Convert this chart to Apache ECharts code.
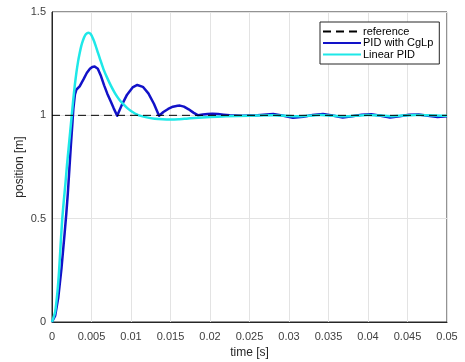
<!DOCTYPE html>
<html>
<head>
<meta charset="utf-8">
<script src="https://cdn.jsdelivr.net/npm/echarts@6/dist/echarts.min.js"></script>
<style>html,body{margin:0;padding:0;background:#fff}#c{width:465px;height:362px}</style>
</head>
<body>
<div id="c"></div>
<script>
const seriesNames = ['reference', 'PID with CgLp', 'Linear PID'];
const xTicks = [0, 0.005, 0.01, 0.015, 0.02, 0.025, 0.03, 0.035, 0.04, 0.045, 0.05];
const yTicks = [0, 0.5, 1, 1.5];

const refTime = [0, 0.05];
const refValues = [1, 1];

const cglpTime = [0,0.0004,0.0008,0.0012,0.0016,0.0018,0.0020,0.0022,0.0024,0.0026,0.0027,0.0029,0.0031,0.0035,0.0040,0.0044,0.0048,0.0051,0.0054,0.0058,0.0062,0.0066,0.0070,0.0074,0.0078,0.00825,
  0.0088,0.0095,0.0102,0.0108,0.0115,0.0122,0.0129,0.01355,
  0.0141,0.0147,0.0153,0.0159,0.0162,0.0167,0.0173,0.0179,0.0185,
  0.0191,0.0197,0.0203,0.0210,0.0217,0.0225,0.0240,0.0260,0.0280,0.0293,0.0305,0.0318,0.0330,0.0343,0.0355,0.0368,0.0380,0.0392,0.0404,0.0416,0.0428,0.0440,0.0452,0.0464,0.0476,0.0488,0.0500];
const cglpValues = [0,0.03,0.12,0.26,0.43,0.52,0.62,0.74,0.86,0.97,1.03,1.10,1.125,1.14,1.175,1.205,1.225,1.234,1.236,1.225,1.19,1.145,1.105,1.07,1.035,0.998,
  1.047,1.10,1.135,1.147,1.138,1.106,1.056,0.998,
  1.016,1.031,1.042,1.046,1.047,1.042,1.029,1.013,1.0,
  1.004,1.007,1.008,1.006,1.003,1.0,0.998,1.0,1.006,0.998,0.988,0.993,1.002,1.006,0.999,0.99,0.996,1.003,1.005,0.998,0.99,0.996,1.003,1.004,0.998,0.992,0.995];

const linTime = [0,0.0004,0.0007,0.0009,0.0011,0.0013,0.0015,0.0017,0.0019,0.0021,0.0023,0.0025,0.0027,0.0029,0.0031,0.0033,0.0035,0.0037,0.0039,0.0041,0.0043,0.0046,0.0049,0.0052,0.0055,0.0058,0.0061,0.0065,0.0070,0.0075,0.0080,0.0085,0.0090,0.0095,0.0100,0.0105,0.0110,0.0120,0.0130,0.0140,0.0150,0.0160,0.0170,0.0180,0.0200,0.0220,0.0250,0.0280,0.0310,0.0340,0.0370,0.0400,0.0430,0.0460,0.0500];
const linValues = [0,0.05,0.15,0.25,0.38,0.5,0.59,0.67,0.76,0.84,0.92,1.0,1.08,1.15,1.21,1.26,1.30,1.335,1.36,1.38,1.393,1.40,1.393,1.37,1.34,1.305,1.27,1.225,1.18,1.14,1.105,1.077,1.055,1.036,1.021,1.009,1.0,0.99,0.984,0.981,0.98,0.981,0.984,0.987,0.992,0.995,0.998,1.0,0.995,1.002,0.995,1.002,0.996,1.002,0.998];

const zip = (a, b) => a.map((t, i) => [t, b[i]]);
const font = 'Liberation Sans, Arial, sans-serif';
const chart = echarts.init(document.getElementById('c'));
chart.setOption({
  animation: false,
  backgroundColor: '#fff',
  grid: { left: 52, right: 18, top: 12, bottom: 40, outerBoundsMode: 'none', containLabel: false,
    show: true, borderColor: '#262626', borderWidth: 1, backgroundColor: 'transparent' },
  legend: {
    data: seriesNames,
    orient: 'vertical',
    left: 320, top: 22,
    padding: [4, 6, 4, 2],
    itemWidth: 38, itemHeight: 12, itemGap: 0.5,
    itemStyle: { opacity: 0 },
    backgroundColor: '#fff',
    borderColor: '#262626', borderWidth: 1, borderRadius: 0,
    textStyle: { fontFamily: font, fontSize: 11, color: '#000', padding: [0, 0, 0, -3] }
  },
  xAxis: {
    type: 'value', min: 0, max: 0.05, interval: 0.005,
    name: 'time [s]', nameLocation: 'middle', nameGap: 25, nameMoveOverlap: false,
    nameTextStyle: { fontFamily: font, fontSize: 12, color: '#262626' },
    axisLine: { show: true, lineStyle: { color: '#262626', width: 1 } },
    axisTick: { show: false },
    axisLabel: { fontFamily: font, fontSize: 11, color: '#404040', margin: 9,
      formatter: v => { const r = xTicks.find(t => Math.abs(t - v) < 1e-9); return String(r !== undefined ? r : v); } },
    splitLine: { show: true, lineStyle: { color: '#e3e3e3', width: 1 } }
  },
  yAxis: {
    type: 'value', min: 0, max: 1.5, interval: 0.5,
    name: 'position [m]', nameLocation: 'middle', nameGap: 26, nameMoveOverlap: false,
    nameTextStyle: { fontFamily: font, fontSize: 12, color: '#262626' },
    axisLine: { show: true, lineStyle: { color: '#262626', width: 1 } },
    axisTick: { show: false },
    axisLabel: { fontFamily: font, fontSize: 11, color: '#404040', margin: 6,
      formatter: v => { const r = yTicks.find(t => Math.abs(t - v) < 1e-9); return String(r !== undefined ? r : v); } },
    splitLine: { show: true, lineStyle: { color: '#e3e3e3', width: 1 } }
  },
  series: [
    { name: seriesNames[1], type: 'line', data: zip(cglpTime, cglpValues), symbol: 'none', z: 2,
      lineStyle: { color: '#1212c8', width: 2.5, join: 'round' }, itemStyle: { color: '#1212c8' } },
    { name: seriesNames[2], type: 'line', data: zip(linTime, linValues), symbol: 'none', smooth: 0.2, z: 3,
      lineStyle: { color: '#1ee8e8', width: 2.5 }, itemStyle: { color: '#1ee8e8' } },
    { name: seriesNames[0], type: 'line', data: zip(refTime, refValues), symbol: 'none', z: 4,
      lineStyle: { color: '#000', width: 1, type: [8, 5] }, itemStyle: { color: '#000' } }
  ]
});
</script>
</body>
</html>
